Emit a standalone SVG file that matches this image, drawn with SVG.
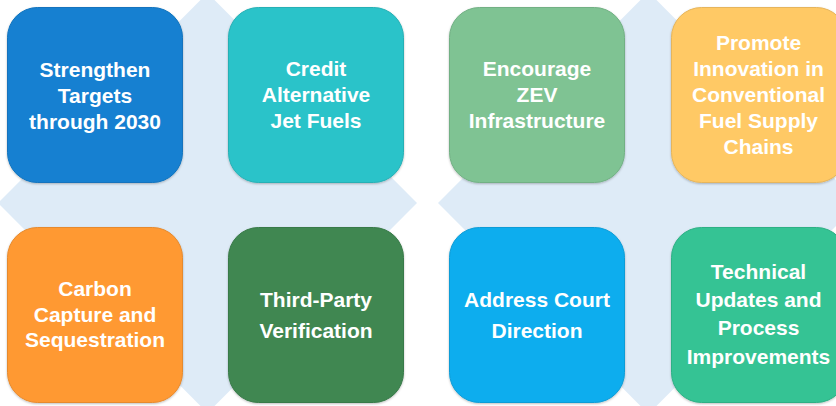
<svg xmlns="http://www.w3.org/2000/svg" width="836" height="406" viewBox="0 0 836 406">
  <style>
    .bg { fill: #DEEBF7; }
    .box { stroke-width: 1; }
    .lbl { font-family: "Liberation Sans", Arial, sans-serif; font-weight: bold; font-size: 21px; fill: #FFFFFF; text-anchor: middle; }
  </style>
  <defs>
    <filter id="sh" x="-10%" y="-10%" width="120%" height="120%">
      <feDropShadow dx="0" dy="1" stdDeviation="1" flood-color="#000000" flood-opacity="0.25"/>
    </filter>
  </defs>
  <rect width="836" height="406" fill="#FFFFFF"/>
  <g id="background">
    <polygon class="bg" points="207.5,-7 417,203 207.5,413 -2,203"/>
    <polygon class="bg" points="648.5,-8 859,203 648.5,414 438,203"/>
  </g>
  <g id="connectors"></g>
  <g id="n1">
    <rect class="box" x="7.5" y="7.5" width="175" height="175" rx="30" fill="#1480D1" stroke="#1273BD" filter="url(#sh)"/>
    <text class="lbl" x="95" y="77">Strengthen</text>
    <text class="lbl" x="95" y="103">Targets</text>
    <text class="lbl" x="95" y="129">through 2030</text>
  </g>
  <g id="n2">
    <rect class="box" x="228.5" y="7.5" width="175" height="175" rx="30" fill="#2BC3C9" stroke="#27B0B5" filter="url(#sh)"/>
    <text class="lbl" x="316" y="76">Credit</text>
    <text class="lbl" x="316" y="102">Alternative</text>
    <text class="lbl" x="316" y="128">Jet Fuels</text>
  </g>
  <g id="n3">
    <rect class="box" x="449.5" y="7.5" width="175" height="175" rx="30" fill="#7FC393" stroke="#72B084" filter="url(#sh)"/>
    <text class="lbl" x="537" y="76">Encourage</text>
    <text class="lbl" x="537" y="102">ZEV</text>
    <text class="lbl" x="537" y="128">Infrastructure</text>
  </g>
  <g id="n4">
    <rect class="box" x="671.5" y="7.5" width="175" height="175" rx="30" fill="#FFC965" stroke="#E6B55B" filter="url(#sh)"/>
    <text class="lbl" x="758.5" y="50">Promote</text>
    <text class="lbl" x="758.5" y="76">Innovation in</text>
    <text class="lbl" x="758.5" y="102">Conventional</text>
    <text class="lbl" x="758.5" y="128">Fuel Supply</text>
    <text class="lbl" x="758.5" y="154">Chains</text>
  </g>
  <g id="n5">
    <rect class="box" x="7.5" y="227.5" width="175" height="175" rx="30" fill="#FF9933" stroke="#E68A2E" filter="url(#sh)"/>
    <text class="lbl" x="95" y="296">Carbon</text>
    <text class="lbl" x="95" y="322">Capture and</text>
    <text class="lbl" x="95" y="347">Sequestration</text>
  </g>
  <g id="n6">
    <rect class="box" x="228.5" y="227.5" width="175" height="175" rx="30" fill="#3F8751" stroke="#397A49" filter="url(#sh)"/>
    <text class="lbl" x="316" y="307">Third-Party</text>
    <text class="lbl" x="316" y="338">Verification</text>
  </g>
  <g id="n7">
    <rect class="box" x="449.5" y="227.5" width="175" height="175" rx="30" fill="#0AADEE" stroke="#099CD6" filter="url(#sh)"/>
    <text class="lbl" x="537" y="307">Address Court</text>
    <text class="lbl" x="537" y="338">Direction</text>
  </g>
  <g id="n8">
    <rect class="box" x="671.5" y="227.5" width="175" height="175" rx="30" fill="#34C394" stroke="#2FB085" filter="url(#sh)"/>
    <text class="lbl" x="758.5" y="279">Technical</text>
    <text class="lbl" x="758.5" y="307">Updates and</text>
    <text class="lbl" x="758.5" y="335">Process</text>
    <text class="lbl" x="758.5" y="364">Improvements</text>
  </g>
</svg>
